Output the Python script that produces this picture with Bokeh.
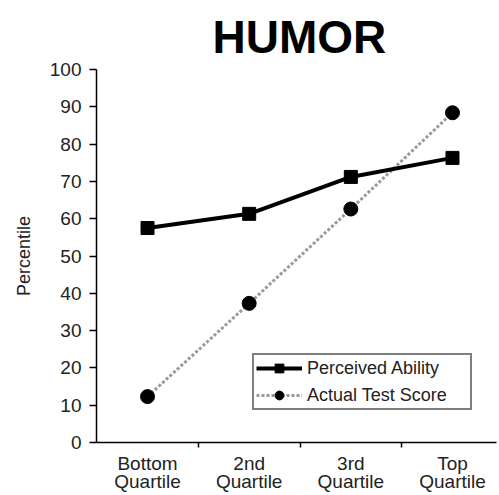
from bokeh.plotting import figure
from bokeh.models import FixedTicker, Range1d, Legend, LegendItem
from bokeh.embed import file_html
from bokeh.resources import INLINE

title_text = "HUMOR"
categories = ["Bottom\nQuartile", "2nd\nQuartile", "3rd\nQuartile", "Top\nQuartile"]
perceived = [57.5, 61.3, 71.2, 76.3]
actual = [12.3, 37.3, 62.6, 88.4]
y_ticks = [0, 10, 20, 30, 40, 50, 60, 70, 80, 90, 100]

xs = list(range(len(categories)))
FONT = "Liberation Sans"

p = figure(width=499, height=495, output_backend="svg", toolbar_location=None,
           x_range=Range1d(-0.502, 3.433), y_range=Range1d(0, 100),
           min_border_left=96, min_border_right=3, min_border_top=69, min_border_bottom=53)

p.title.text = title_text
p.title.text_font = FONT
p.title.text_font_size = "46px"
p.title.text_font_style = "bold"
p.title.text_color = "black"
p.title.align = "left"
p.title.offset = 116
p.title.standoff = 14
p.title.vertical_align = "bottom"

p.outline_line_color = None
p.grid.visible = False
p.background_fill_color = "white"

# x axis
p.xaxis.ticker = FixedTicker(ticks=xs, minor_ticks=[0.5, 1.5, 2.5])
p.xaxis.major_label_overrides = {i: c for i, c in zip(xs, categories)}
p.xaxis.major_tick_out = 0
p.xaxis.major_tick_in = 0
p.xaxis.minor_tick_out = 5
p.xaxis.minor_tick_in = 0
p.xaxis.minor_tick_line_width = 1.5
p.xaxis.axis_line_width = 1.5
p.xaxis.major_label_text_font = FONT
p.xaxis.major_label_text_font_size = "19px"
p.xaxis.major_label_text_line_height = 0.9
p.xaxis.major_label_text_color = "#222222"
p.xaxis.major_label_standoff = 5

# y axis
p.yaxis.ticker = FixedTicker(ticks=y_ticks, minor_ticks=[])
p.yaxis.major_tick_out = 7
p.yaxis.major_tick_in = 0
p.yaxis.major_tick_line_width = 1.5
p.yaxis.axis_line_width = 1.5
p.yaxis.major_label_text_font = FONT
p.yaxis.major_label_text_font_size = "19px"
p.yaxis.major_label_text_color = "#222222"
p.yaxis.major_label_standoff = 8
p.yaxis.axis_label = "Percentile"
p.yaxis.axis_label_text_font = FONT
p.yaxis.axis_label_text_font_size = "18px"
p.yaxis.axis_label_text_font_style = "normal"
p.yaxis.axis_label_text_color = "#222222"
p.yaxis.axis_label_standoff = 13

# series
l2 = p.line(xs, actual, line_color="#9a9a9a", line_width=3, line_dash="3 2")
c2 = p.scatter(xs, actual, marker="circle", size=14, fill_color="black", line_color="black")
l1 = p.line(xs, perceived, line_color="black", line_width=4)
c1 = p.scatter(xs, perceived, marker="square", size=13, fill_color="black", line_color="black")

legend = Legend(items=[
    LegendItem(label="Perceived Ability", renderers=[l1, c1]),
    LegendItem(label="Actual Test Score", renderers=[l2, c2]),
], location=(156, 32))
legend.border_line_color = "black"
legend.border_line_width = 2
legend.label_text_font = FONT
legend.label_text_font_size = "18px"
legend.label_text_color = "#222222"
legend.glyph_width = 46
legend.glyph_height = 22
legend.padding = 2
legend.spacing = 5
legend.label_standoff = 5
legend.label_width = 161
legend.margin = 0
p.add_layout(legend, "center")

open("out.html", "w").write(file_html(p, INLINE))
